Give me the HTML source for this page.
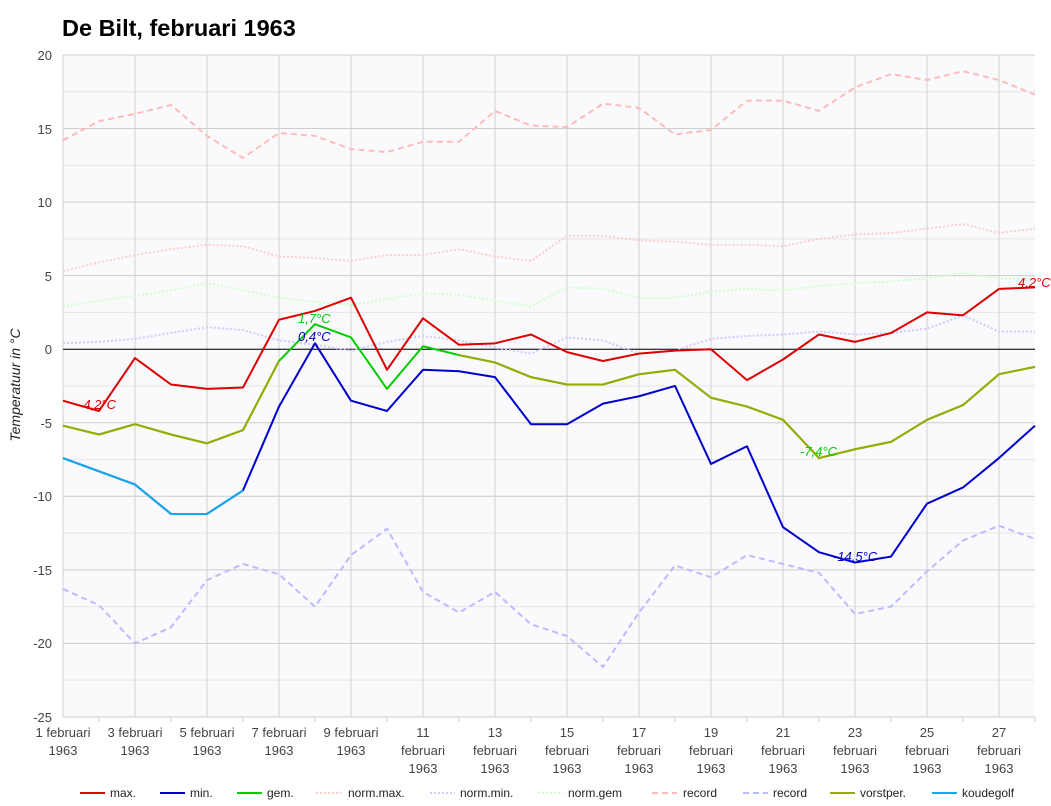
<!DOCTYPE html>
<html><head><meta charset="utf-8"><style>
body{margin:0;background:#fff;width:1051px;height:801px;overflow:hidden}
svg{font-family:"Liberation Sans",Arial,sans-serif}
</style></head><body>
<svg id="s" width="1051" height="801" xmlns="http://www.w3.org/2000/svg">
<rect x="63" y="55" width="972" height="662" fill="#fafafd"/>
<g id="grid"></g>
<text x="62" y="36" font-size="23.5" font-weight="bold" fill="#000">De Bilt, februari 1963</text>
<text transform="translate(20,385) rotate(-90)" text-anchor="middle" font-size="14" font-style="italic" fill="#222">Temperatuur in °C</text>
<g font-size="13" fill="#444" text-anchor="end">
<text x="52" y="60">20</text><text x="52" y="134">15</text><text x="52" y="207">10</text><text x="52" y="281">5</text><text x="52" y="354">0</text><text x="52" y="428">-5</text><text x="52" y="501">-10</text><text x="52" y="575">-15</text><text x="52" y="648">-20</text><text x="52" y="722">-25</text>
</g>
<g font-size="13" fill="#444" text-anchor="middle">
<text x="63" y="737">1 februari</text><text x="63" y="755">1963</text>
<text x="135" y="737">3 februari</text><text x="135" y="755">1963</text>
<text x="207" y="737">5 februari</text><text x="207" y="755">1963</text>
<text x="279" y="737">7 februari</text><text x="279" y="755">1963</text>
<text x="351" y="737">9 februari</text><text x="351" y="755">1963</text>
<text x="423" y="737">11</text><text x="423" y="755">februari</text><text x="423" y="773">1963</text>
<text x="495" y="737">13</text><text x="495" y="755">februari</text><text x="495" y="773">1963</text>
<text x="567" y="737">15</text><text x="567" y="755">februari</text><text x="567" y="773">1963</text>
<text x="639" y="737">17</text><text x="639" y="755">februari</text><text x="639" y="773">1963</text>
<text x="711" y="737">19</text><text x="711" y="755">februari</text><text x="711" y="773">1963</text>
<text x="783" y="737">21</text><text x="783" y="755">februari</text><text x="783" y="773">1963</text>
<text x="855" y="737">23</text><text x="855" y="755">februari</text><text x="855" y="773">1963</text>
<text x="927" y="737">25</text><text x="927" y="755">februari</text><text x="927" y="773">1963</text>
<text x="999" y="737">27</text><text x="999" y="755">februari</text><text x="999" y="773">1963</text>
</g>
<g id="series" fill="none"></g>
<g font-size="13" font-style="italic">
<text x="79" y="409" fill="#d00">-4,2°C</text>
<text x="298" y="323" fill="#0c0">1,7°C</text>
<text x="298" y="341" fill="#00c">0,4°C</text>
<text x="800" y="456" fill="#0c0">-7,4°C</text>
<text x="833" y="561" fill="#00c">-14,5°C</text>
<text x="1018" y="287" fill="#d00">4,2°C</text>
</g>
<g font-size="12" fill="#222">
<line x1="80" y1="793" x2="105" y2="793" stroke="#d00" stroke-width="2"/><text x="110" y="797">max.</text>
<line x1="160" y1="793" x2="185" y2="793" stroke="#00c" stroke-width="2"/><text x="190" y="797">min.</text>
<line x1="237" y1="793" x2="262" y2="793" stroke="#0c0" stroke-width="2"/><text x="267" y="797">gem.</text>
<line x1="316" y1="793" x2="341" y2="793" stroke="#fcc" stroke-width="2" stroke-dasharray="2,2"/><text x="348" y="797">norm.max.</text>
<line x1="430" y1="793" x2="455" y2="793" stroke="#ccf" stroke-width="2" stroke-dasharray="2,2"/><text x="460" y="797">norm.min.</text>
<line x1="538" y1="793" x2="563" y2="793" stroke="#cfc" stroke-width="2" stroke-dasharray="2,2"/><text x="568" y="797">norm.gem</text>
<line x1="652" y1="793" x2="677" y2="793" stroke="#fbb" stroke-width="2" stroke-dasharray="6,4"/><text x="683" y="797">record</text>
<line x1="743" y1="793" x2="768" y2="793" stroke="#bbf" stroke-width="2" stroke-dasharray="6,4"/><text x="773" y="797">record</text>
<line x1="830" y1="793" x2="855" y2="793" stroke="#9a0" stroke-width="2"/><text x="860" y="797">vorstper.</text>
<line x1="932" y1="793" x2="957" y2="793" stroke="#1ae" stroke-width="2"/><text x="962" y="797">koudegolf</text>
</g>
</svg>
<script>
var ns="http://www.w3.org/2000/svg";
function X(i){return 63+36*i}function Y(v){return 349.2-14.71*v}
var g=document.getElementById('grid'),s=document.getElementById('series');
function el(p,t,a){var e=document.createElementNS(ns,t);for(var k in a)e.setAttribute(k,a[k]);p.appendChild(e);return e}
for(var v=-25;v<=20;v+=2.5){el(g,'line',{x1:63,x2:1035,y1:Y(v),y2:Y(v),stroke:(v%5==0)?'#ccc':'#e6e6e6','stroke-width':1})}
for(var i=0;i<28;i+=2){el(g,'line',{x1:X(i),x2:X(i),y1:55,y2:717,stroke:'#d0d0d0'})}
for(var i=1;i<28;i+=2){el(g,'line',{x1:X(i),x2:X(i),y1:717,y2:722,stroke:'#ccc'})}
el(g,'line',{x1:63,x2:1035,y1:Y(0),y2:Y(0),stroke:'#000'});
function pl(d,c,w,da,start){var p=[];for(var i=0;i<d.length;i++)if(d[i]!==null)p.push(X(i+(start||0))+','+Y(d[i]));var a={points:p.join(' '),stroke:c,'stroke-width':w,'stroke-linejoin':'round'};if(da)a['stroke-dasharray']=da;el(s,'polyline',a)}
pl([14.2,15.5,16.0,16.6,14.5,13.0,14.7,14.5,13.6,13.4,14.1,14.1,16.2,15.2,15.1,16.7,16.4,14.6,14.9,16.9,16.9,16.2,17.8,18.7,18.3,18.9,18.3,17.3],'#fbb',2,'6,4');
pl([-16.3,-17.4,-20.0,-18.9,-15.7,-14.6,-15.3,-17.5,-14.0,-12.2,-16.5,-17.9,-16.5,-18.7,-19.5,-21.6,-17.9,-14.7,-15.5,-14.0,-14.6,-15.2,-18.0,-17.5,-15.1,-13.0,-12.0,-12.9],'#bbf',2,'6,4');
pl([5.3,5.9,6.4,6.8,7.1,7.0,6.3,6.2,6.0,6.4,6.4,6.8,6.3,6.0,7.7,7.7,7.4,7.3,7.1,7.1,7.0,7.5,7.8,7.9,8.2,8.5,7.9,8.2],'#fcc',2,'2,2');
pl([0.4,0.5,0.7,1.1,1.5,1.3,0.6,0.3,-0.1,0.5,0.9,0.6,0.1,-0.3,0.8,0.6,-0.3,-0.1,0.7,0.9,1.0,1.2,1.0,1.1,1.4,2.3,1.2,1.2],'#ccf',2,'2,2');
pl([2.9,3.3,3.6,4.0,4.5,4.0,3.5,3.2,3.0,3.4,3.8,3.7,3.3,2.9,4.2,4.1,3.5,3.5,3.9,4.1,4.0,4.3,4.5,4.6,4.8,5.2,4.8,4.8],'#cfc',2,'2,2');
pl([-3.5,-4.2,-0.6,-2.4,-2.7,-2.6,2.0,2.6,3.5,-1.4,2.1,0.3,0.4,1.0,-0.2,-0.8,-0.3,-0.1,0.0,-2.1,-0.7,1.0,0.5,1.1,2.5,2.3,4.1,4.2],'#d00',2);
var gem=[-5.2,-5.8,-5.1,-5.8,-6.4,-5.5,-0.8,1.7,0.8,-2.7,0.2,-0.4,-0.9,-1.9,-2.4,-2.4,-1.7,-1.4,-3.3,-3.9,-4.8,-7.4,-6.8,-6.3,-4.8,-3.8,-1.7,-1.2];
pl(gem,'#0c0',2);
pl(gem.slice(0,7),'#9a0',2);
pl(gem.slice(11),'#9a0',2,null,11);
pl([-7.4,-8.3,-9.2,-11.2,-11.2,-9.6,-3.9,0.4,-3.5,-4.2,-1.4,-1.5,-1.9,-5.1,-5.1,-3.7,-3.2,-2.5,-7.8,-6.6,-12.1,-13.8,-14.5,-14.1,-10.5,-9.4,-7.4,-5.2],'#00c',2);
pl([-7.4,-8.3,-9.2,-11.2,-11.2,-9.6],'#1ae',2);
</script>
</body></html>
